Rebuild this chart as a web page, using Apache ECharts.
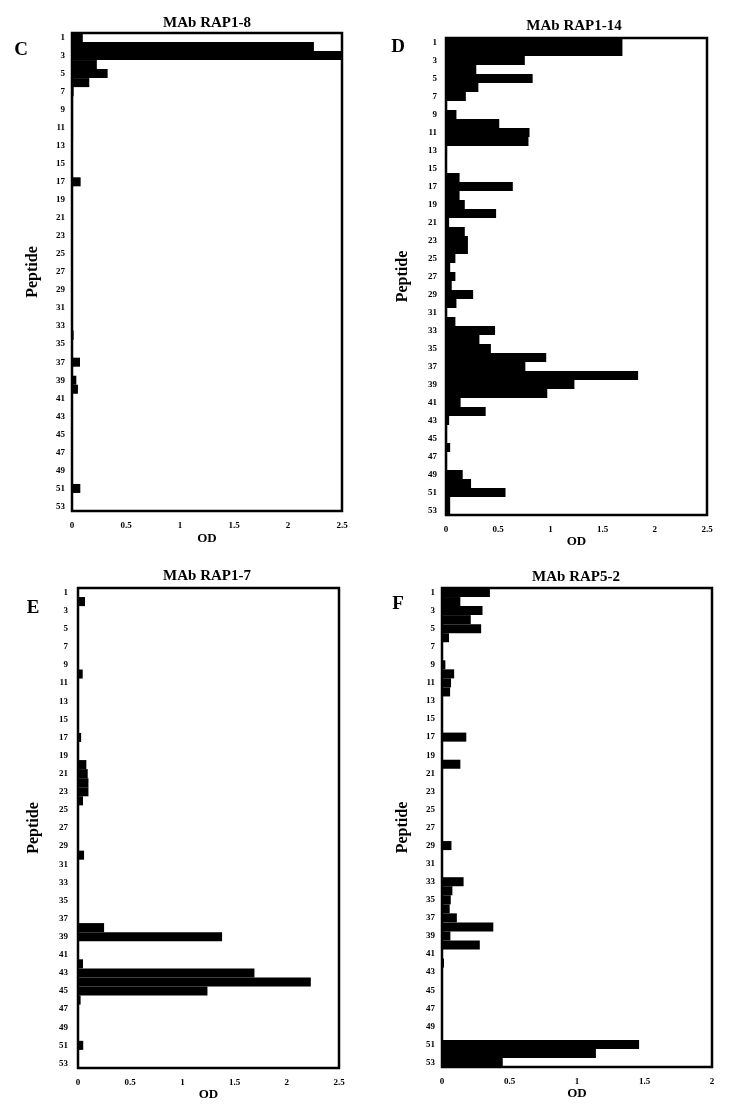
<!DOCTYPE html>
<html>
<head>
<meta charset="utf-8">
<script src="https://cdn.jsdelivr.net/npm/echarts@6/dist/echarts.min.js"></script>
<style>
html,body{margin:0;padding:0;background:#fff;}
#chart{width:731px;height:1113px;}
</style>
</head>
<body>
<div id="chart"></div>
<script>
// Peptide categories 1..53
const peptides = [];
for (let i = 1; i <= 53; i++) peptides.push(String(i));

const panelLetters = ['C', 'D', 'E', 'F'];
const panelTitles = ['MAb RAP1-8', 'MAb RAP1-14', 'MAb RAP1-7', 'MAb RAP5-2'];
const xMaxes = [2.5, 2.5, 2.5, 2];
const xAxisName = 'OD';
const yAxisName = 'Peptide';

// OD values, peptide 1..53
const odRAP1_8 = [
  0.10, 2.24, 2.5, 0.23, 0.33, 0.16, 0.015, 0.01, 0.01, 0.01,
  0.01, 0.01, 0.005, 0.005, 0.005, 0.005, 0.08, 0, 0, 0,
  0, 0, 0, 0, 0, 0, 0, 0, 0, 0,
  0, 0, 0, 0.015, 0, 0, 0.074, 0, 0.04, 0.055,
  0, 0, 0, 0, 0, 0, 0, 0, 0, 0,
  0.077, 0, 0
];
const odRAP1_14 = [
  1.69, 1.69, 0.755, 0.29, 0.83, 0.31, 0.19, 0.01, 0.10, 0.51,
  0.80, 0.79, 0.01, 0.005, 0.005, 0.13, 0.64, 0.13, 0.18, 0.48,
  0.03, 0.18, 0.21, 0.21, 0.09, 0.04, 0.09, 0.055, 0.26, 0.10,
  0.01, 0.09, 0.47, 0.32, 0.43, 0.96, 0.76, 1.84, 1.23, 0.97,
  0.14, 0.38, 0.03, 0.01, 0.01, 0.04, 0.01, 0.01, 0.16, 0.24,
  0.57, 0.04, 0.04
];
const odRAP1_7 = [
  0, 0.067, 0, 0, 0, 0, 0, 0, 0, 0.045,
  0, 0, 0, 0, 0, 0, 0.03, 0, 0, 0.08,
  0.093, 0.10, 0.10, 0.048, 0, 0, 0, 0, 0, 0.058,
  0, 0, 0, 0, 0, 0, 0, 0.25, 1.38, 0,
  0, 0.048, 1.69, 2.23, 1.24, 0.025, 0, 0, 0, 0,
  0.05, 0, 0
];
const odRAP5_2 = [
  0.355, 0.136, 0.30, 0.213, 0.29, 0.052, 0, 0, 0.025, 0.09,
  0.067, 0.06, 0, 0, 0, 0, 0.18, 0, 0, 0.136,
  0, 0, 0, 0, 0, 0, 0, 0, 0.07, 0,
  0, 0, 0.16, 0.077, 0.065, 0.057, 0.11, 0.38, 0.062, 0.28,
  0, 0.015, 0, 0, 0, 0, 0, 0, 0, 0,
  1.46, 1.14, 0.45
];
const seriesData = [odRAP1_8, odRAP1_14, odRAP1_7, odRAP5_2];

// layout
const grids = [
  {left: 72, top: 33, width: 270, height: 478},
  {left: 446, top: 38, width: 261, height: 477},
  {left: 78, top: 588, width: 261, height: 480},
  {left: 442, top: 588, width: 270, height: 479}
];
const yLabelMargins = [7, 9, 10, 7];
const yNameGaps = [31, 35, 36, 31];
const xNameGaps = [21, 18, 20, 20];
const titlePos = [[207, 23], [574, 26], [207, 576], [576, 577]];
const letterPos = [[21, 50], [398, 47], [33, 608], [398, 604]];

const FONT = '"Liberation Serif", "DejaVu Serif", serif';

const option = {
  backgroundColor: '#fff',
  animation: false,
  grid: grids.map(g => Object.assign({show: true, borderColor: '#000', borderWidth: 2.5, backgroundColor: 'transparent'}, g)),
  xAxis: grids.map((g, i) => ({
    type: 'value', gridIndex: i, min: 0, max: xMaxes[i], interval: 0.5,
    name: xAxisName, nameLocation: 'middle', nameGap: xNameGaps[i],
    nameTextStyle: {fontFamily: FONT, fontWeight: 'bold', fontSize: 13, color: '#000'},
    axisLine: {show: false}, axisTick: {show: false}, splitLine: {show: false},
    axisLabel: {fontFamily: FONT, fontWeight: 'bold', fontSize: 9, color: '#000', margin: 10}
  })),
  yAxis: grids.map((g, i) => ({
    type: 'category', gridIndex: i, data: peptides, inverse: true,
    name: yAxisName, nameLocation: 'middle', nameGap: yNameGaps[i], nameRotate: 90,
    nameTextStyle: {fontFamily: FONT, fontWeight: 'bold', fontSize: 16, color: '#000'},
    axisLine: {show: false}, axisTick: {show: false}, splitLine: {show: false},
    axisLabel: {interval: 1, fontFamily: FONT, fontWeight: 'bold', fontSize: 9, color: '#000', margin: yLabelMargins[i]}
  })),
  series: seriesData.map((d, i) => ({
    type: 'bar', xAxisIndex: i, yAxisIndex: i, data: d,
    barCategoryGap: '0%', itemStyle: {color: '#000'}, silent: true
  })),
  graphic: [
    ...panelTitles.map((t, i) => ({
      type: 'text', x: titlePos[i][0], y: titlePos[i][1],
      style: {text: t, font: 'bold 15px ' + FONT, fill: '#000', textAlign: 'center', textVerticalAlign: 'middle'}
    })),
    ...panelLetters.map((t, i) => ({
      type: 'text', x: letterPos[i][0], y: letterPos[i][1],
      style: {text: t, font: 'bold 19px ' + FONT, fill: '#000', textAlign: 'center', textVerticalAlign: 'middle'}
    }))
  ]
};

const chart = echarts.init(document.getElementById('chart'), null, {renderer: 'canvas'});
chart.setOption(option);
</script>
</body>
</html>
